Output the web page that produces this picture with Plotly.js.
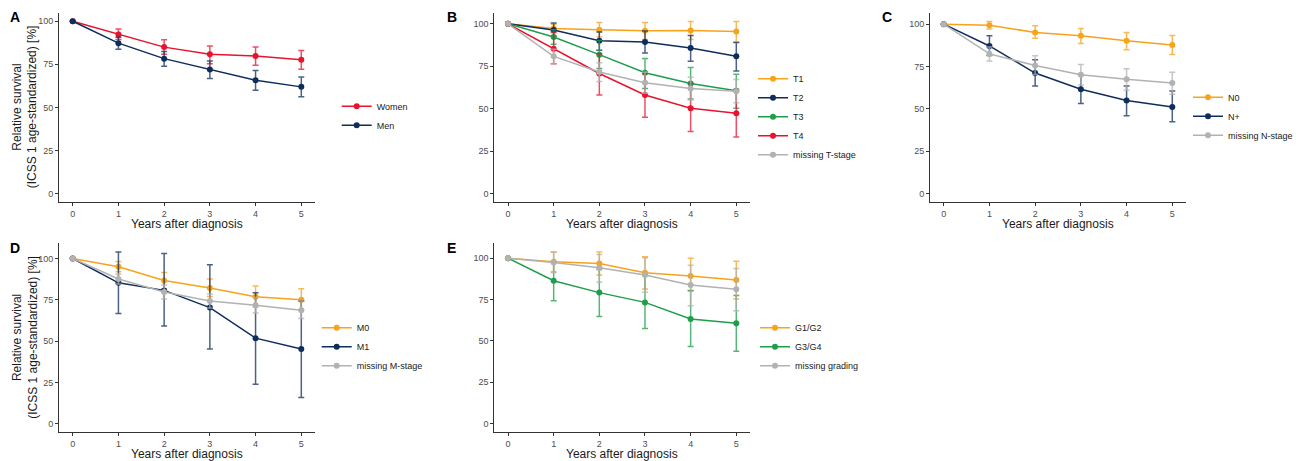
<!DOCTYPE html>
<html>
<head>
<meta charset="utf-8">
<script src="https://cdn.plot.ly/plotly-3.0.1.min.js"></script>
<style>html,body{margin:0;padding:0;background:#fff;}#chart{width:1304px;height:461px;}</style>
</head>
<body>
<div id="chart"></div>
<script>
// ---------- data ----------
const years = [0, 1, 2, 3, 4, 5];
const xTickLabels = ["0", "1", "2", "3", "4", "5"];
const yTickVals = [0, 25, 50, 75, 100];

// Panel A: sex
const womenRS = [100, 92.3, 85.0, 80.8, 79.8, 77.7];
const womenLo = [null, 89.4, 80.8, 75.4, 74.4, 72.1];
const womenHi = [null, 95.6, 89.3, 85.6, 85.0, 83.1];
const menRS = [100, 87.3, 78.3, 72.0, 65.8, 61.9];
const menLo = [null, 83.7, 73.9, 66.8, 60.0, 56.1];
const menHi = [null, 90.8, 82.5, 76.9, 71.4, 67.7];

// Panel B: T-stage
const t1RS = [100, 97.2, 96.5, 95.9, 96.1, 95.5];
const t1Lo = [null, 94.5, 92.2, 90.8, 90.8, 89.2];
const t1Hi = [null, 99.8, 100.8, 100.8, 101.3, 101.3];
const t2RS = [100, 96.3, 90.0, 89.2, 85.7, 80.8];
const t2Lo = [null, 92.6, 84.4, 82.8, 77.9, 72.1];
const t2Hi = [null, 100.4, 95.1, 95.7, 93.1, 89.0];
const t3RS = [100, 92.2, 81.8, 71.1, 64.8, 60.5];
const t3Lo = [null, 88.0, 73.6, 61.9, 55.7, 50.2];
const t3Hi = [null, 96.5, 90.2, 79.5, 74.2, 70.3];
const t4RS = [100, 85.3, 70.7, 58.0, 50.2, 47.3];
const t4Lo = [null, 76.5, 58.0, 44.9, 36.5, 33.2];
const t4Hi = [null, 95.1, 82.4, 70.7, 64.8, 61.3];
const tMissRS = [100, 80.8, 71.6, 65.2, 61.9, 60.3];
const tMissLo = [null, 76.5, 66.0, 59.0, 55.0, 53.5];
const tMissHi = [null, 85.0, 77.0, 71.5, 68.5, 67.2];

// Panel C: N-stage
const n0RS = [100, 99.4, 95.1, 93.1, 90.2, 87.7];
const n0Lo = [null, 97.1, 91.6, 88.6, 84.9, 82.0];
const n0Hi = [null, 101.5, 99.0, 97.4, 95.1, 93.3];
const nPlusRS = [100, 87.1, 71.1, 61.5, 54.9, 51.1];
const nPlusLo = [null, 81.4, 63.4, 53.1, 45.9, 42.4];
const nPlusHi = [null, 93.1, 78.9, 70.1, 63.4, 60.5];
const nMissRS = [100, 82.4, 75.6, 70.1, 67.4, 65.2];
const nMissLo = [null, 78.2, 70.2, 64.0, 61.0, 58.6];
const nMissHi = [null, 86.5, 81.3, 76.2, 73.6, 71.6];

// Panel D: M-stage
const m0RS = [100, 95.0, 86.7, 82.1, 76.9, 75.1];
const m0Lo = [null, 92.0, 81.5, 77.0, 70.5, 68.7];
const m0Hi = [null, 98.2, 91.6, 87.6, 83.3, 81.7];
const m1RS = [100, 85.3, 80.7, 70.3, 51.8, 45.2];
const m1Lo = [null, 66.7, 59.2, 45.2, 23.9, 15.9];
const m1Hi = [null, 104.0, 103.0, 96.2, 79.3, 74.3];
const mMissRS = [100, 87.6, 79.7, 74.3, 71.7, 68.7];
const mMissLo = [null, 84.5, 75.5, 70.0, 67.0, 63.7];
const mMissHi = [null, 90.5, 84.0, 78.5, 76.5, 74.3];

// Panel E: grading
const g12RS = [100, 97.8, 96.8, 91.2, 89.2, 86.8];
const g12Lo = [null, 91.8, 89.8, 81.4, 80.2, 75.4];
const g12Hi = [null, 103.8, 103.8, 100.8, 100.0, 98.2];
const g34RS = [100, 86.4, 79.2, 73.3, 63.3, 60.7];
const g34Lo = [null, 74.3, 64.7, 57.5, 46.7, 43.7];
const g34Hi = [null, 97.8, 93.2, 89.8, 80.4, 77.4];
const gMissRS = [100, 97.4, 94.2, 89.8, 83.8, 81.2];
const gMissLo = [null, 91.2, 85.4, 79.4, 71.3, 68.3];
const gMissHi = [null, 103.8, 102.2, 100.2, 95.8, 93.8];

const panelLetters = ["A", "B", "C", "D", "E"];
const xTitle = "Years after diagnosis";
const yTitle = "Relative survival<br>(ICSS 1 age-standardized) [%]";

// ---------- style ----------
const COL = {
  orange: [247, 163, 28],
  navy: [15, 45, 92],
  green: [30, 158, 74],
  red: [232, 19, 47],
  gray: [178, 178, 178]
};
const rgb = c => `rgb(${c[0]},${c[1]},${c[2]})`;
const rgba = (c, a) => `rgba(${c[0]},${c[1]},${c[2]},${a})`;

const W = 1304, H = 461;
// panel pixel boxes: [left, right, top, bottom]
const boxes = [
  [59, 315, 12.7, 202],
  [494.3, 750, 13, 202],
  [930, 1186, 13, 202],
  [59, 315, 243.3, 432.3],
  [494.3, 750, 243.3, 432.3]
];
// legend positions (text x start, first item center y)
const legendPos = [
  [376.7, 106.7],
  [793, 79.3],
  [1228, 97.7],
  [356.7, 328.3],
  [795, 328.3]
];

const panels = [
  [["Women", womenRS, womenLo, womenHi, COL.red], ["Men", menRS, menLo, menHi, COL.navy]],
  [["T1", t1RS, t1Lo, t1Hi, COL.orange], ["T2", t2RS, t2Lo, t2Hi, COL.navy],
   ["T3", t3RS, t3Lo, t3Hi, COL.green], ["T4", t4RS, t4Lo, t4Hi, COL.red],
   ["missing T-stage", tMissRS, tMissLo, tMissHi, COL.gray]],
  [["N0", n0RS, n0Lo, n0Hi, COL.orange], ["N+", nPlusRS, nPlusLo, nPlusHi, COL.navy],
   ["missing N-stage", nMissRS, nMissLo, nMissHi, COL.gray]],
  [["M0", m0RS, m0Lo, m0Hi, COL.orange], ["M1", m1RS, m1Lo, m1Hi, COL.navy],
   ["missing M-stage", mMissRS, mMissLo, mMissHi, COL.gray]],
  [["G1/G2", g12RS, g12Lo, g12Hi, COL.orange], ["G3/G4", g34RS, g34Lo, g34Hi, COL.green],
   ["missing grading", gMissRS, gMissLo, gMissHi, COL.gray]]
];

const FONT = "Arial, 'Liberation Sans', sans-serif";
const traces = [];
const layout = {
  width: W, height: H,
  margin: {l: 0, r: 0, t: 0, b: 0},
  paper_bgcolor: "#fff", plot_bgcolor: "#fff",
  font: {family: FONT, size: 9, color: "#4d4d4d"},
  annotations: [],
  showlegend: true
};

panels.forEach((series, p) => {
  const n = p + 1;
  const xa = n === 1 ? "x" : "x" + n;
  const ya = n === 1 ? "y" : "y" + n;
  const legId = n === 1 ? "legend" : "legend" + n;
  let ymax = 0;
  series.forEach(s => {
    s[1].concat(s[3]).forEach(v => { if (v !== null && v > ymax) ymax = v; });
  });
  const pad = 0.05 * ymax;
  const b = boxes[p];
  const axBase = {
    showline: true, linecolor: "#333", linewidth: 1,
    ticks: "outside", ticklen: 3, tickcolor: "#333", tickwidth: 1,
    showgrid: false, zeroline: false, fixedrange: true,
    tickfont: {family: FONT, size: 9, color: "#4d4d4d"}
  };
  layout["xaxis" + (n === 1 ? "" : n)] = Object.assign({}, axBase, {
    domain: [b[0] / W, b[1] / W], anchor: ya,
    range: [-0.3, 5.3], tickvals: years, ticktext: xTickLabels
  });
  layout["yaxis" + (n === 1 ? "" : n)] = Object.assign({}, axBase, {
    domain: [1 - b[3] / H, 1 - b[2] / H], anchor: xa,
    range: [-pad, ymax + pad], tickvals: yTickVals, ticktext: yTickVals.map(String)
  });
  series.forEach(s => {
    const [name, rs, lo, hi, c] = s;
    traces.push({
      type: "scatter", mode: "lines+markers", name: name,
      x: years, y: rs, xaxis: xa, yaxis: ya, legend: legId,
      line: {color: rgb(c), width: 1.5},
      marker: {color: rgb(c), size: 6},
      error_y: {
        type: "data", symmetric: false,
        array: hi.map((h, i) => h === null ? null : h - rs[i]),
        arrayminus: lo.map((l, i) => l === null ? null : rs[i] - l),
        color: rgba(c, 0.75), thickness: 1.5, width: 3
      }
    });
  });
  const lp = legendPos[p];
  layout[legId] = {
    x: (lp[0] - 40) / W, y: 1 - (lp[1] - 15) / H,
    xanchor: "left", yanchor: "top",
    bgcolor: "rgba(0,0,0,0)", borderwidth: 0,
    font: {family: FONT, size: 9, color: "#1a1a1a"},
    tracegroupgap: 0
  };
  // panel letter
  layout.annotations.push({
    xref: "paper", yref: "paper", x: (p === 2 ? 886.7 : (b[0] < 100 ? 15 : 451.7)) / W,
    y: 1 - (p < 3 ? 17 : 248) / H, xanchor: "center", yanchor: "middle",
    text: "<b>" + panelLetters[p] + "</b>", showarrow: false,
    font: {family: FONT, size: 14, color: "#000"}
  });
  // x title
  layout.annotations.push({
    xref: "paper", yref: "paper", x: (b[0] + b[1]) / 2 / W, y: 1 - (b[3] + 22) / H,
    xanchor: "center", yanchor: "middle", text: xTitle, showarrow: false,
    font: {family: FONT, size: 12, color: "#1a1a1a"}
  });
  // y title only on left column
  if (p === 0 || p === 3) {
    layout.annotations.push({
      xref: "paper", yref: "paper", x: 25 / W, y: 1 - ((b[2] + b[3]) / 2) / H,
      xanchor: "center", yanchor: "middle", text: yTitle, showarrow: false,
      textangle: -90, align: "center",
      font: {family: FONT, size: 12, color: "#1a1a1a"}
    });
  }
});

Plotly.newPlot("chart", traces, layout, {displayModeBar: false, staticPlot: true});
</script>
</body>
</html>
